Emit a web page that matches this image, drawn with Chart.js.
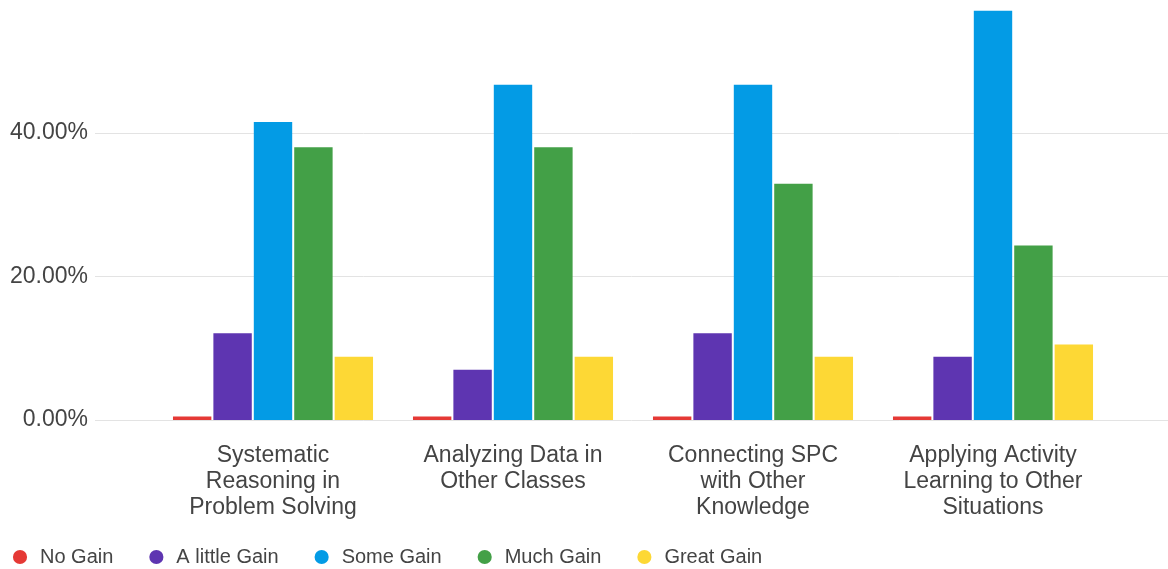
<!DOCTYPE html>
<html lang="en">
<head>
<meta charset="UTF-8" />
<title>Learning Gains</title>
<script src="https://cdn.jsdelivr.net/npm/chart.js@4/dist/chart.umd.min.js"></script>
<style>
  html, body { margin: 0; padding: 0; background: #fff; }
  #wrap { width: 1168px; height: 569px; }
</style>
</head>
<body>
<div id="wrap"><canvas id="chart"></canvas></div>
<script>
const categories = [
  ['Systematic', 'Reasoning in', 'Problem Solving'],
  ['Analyzing Data in', 'Other Classes'],
  ['Connecting SPC', 'with Other', 'Knowledge'],
  ['Applying Activity', 'Learning to Other', 'Situations']
];
const seriesNames = ['No Gain', 'A little Gain', 'Some Gain', 'Much Gain', 'Great Gain'];
const noGain = [0.5, 0.5, 0.5, 0.5];
const littleGain = [12.1, 7.0, 12.1, 8.8];
const someGain = [41.5, 46.7, 46.7, 57.0];
const muchGain = [38.0, 38.0, 32.9, 24.3];
const greatGain = [8.8, 8.8, 8.8, 10.5];
const yTicks = [0, 20, 40];

const colors = ['#e53935', '#5e35b1', '#039be5', '#43a047', '#fdd835'];
const values = [noGain, littleGain, someGain, muchGain, greatGain];
const font = 'Liberation Sans, Arial, sans-serif';

// horizontal grid lines run past both sides of the plot area
const wideGrid = {
  id: 'wideGrid',
  beforeDatasetsDraw(chart) {
    const y = chart.scales.y;
    const ctx = chart.ctx;
    ctx.save();
    ctx.strokeStyle = '#e3e3e3';
    ctx.lineWidth = 1;
    yTicks.forEach(v => {
      const py = Math.round(y.getPixelForValue(v)) + 0.5;
      ctx.beginPath();
      ctx.moveTo(95, py);
      ctx.lineTo(chart.width, py);
      ctx.stroke();
    });
    ctx.restore();
  }
};

// nudge the legend to the left edge and a bit lower, and let the
// category labels use the space beneath the axis box
const placeLegend = {
  id: 'placeLegend',
  afterLayout(chart) {
    const lg = chart.legend;
    lg.left -= 23;
    lg.right -= 23;
    lg.top += 8;
    lg.bottom += 8;
    chart.scales.x.bottom += 30;
  }
};

new Chart(document.getElementById('chart'), {
  type: 'bar',
  data: {
    labels: categories,
    datasets: seriesNames.map((name, i) => ({
      label: name,
      data: values[i],
      backgroundColor: colors[i],
      borderWidth: 0,
      categoryPercentage: 0.842,
      barPercentage: 0.95
    }))
  },
  options: {
    responsive: true,
    maintainAspectRatio: false,
    animation: false,
    layout: { padding: { left: 0, right: 55, top: 0, bottom: 0 } },
    plugins: {
      tooltip: { enabled: false },
      legend: {
        position: 'bottom',
        align: 'start',
        labels: {
          usePointStyle: true,
          pointStyle: 'circle',
          boxWidth: 20,
          boxHeight: 10,
          padding: 33,
          color: '#444',
          font: { family: font, size: 20 }
        }
      }
    },
    scales: {
      x: {
        grid: { display: false, drawTicks: false },
        border: { display: false },
        ticks: {
          color: '#444',
          padding: 23,
          maxRotation: 0,
          autoSkip: false,
          font: { family: font, size: 23, lineHeight: 1.13 }
        },
        afterFit(scale) { scale.height = 86; }
      },
      y: {
        min: 0,
        max: 58.5,
        grid: { display: false, drawTicks: false },
        border: { display: false },
        ticks: {
          color: '#444',
          padding: 65,
          font: { family: font, size: 23 },
          callback: v => v.toFixed(2) + '%'
        },
        afterBuildTicks(scale) {
          scale.ticks = yTicks.map(v => ({ value: v }));
        },
        afterFit(scale) {
          scale.width = 153;
          scale.paddingTop = 0;
          scale.paddingBottom = 0;
        }
      }
    }
  },
  plugins: [wideGrid, placeLegend]
});
</script>
</body>
</html>
